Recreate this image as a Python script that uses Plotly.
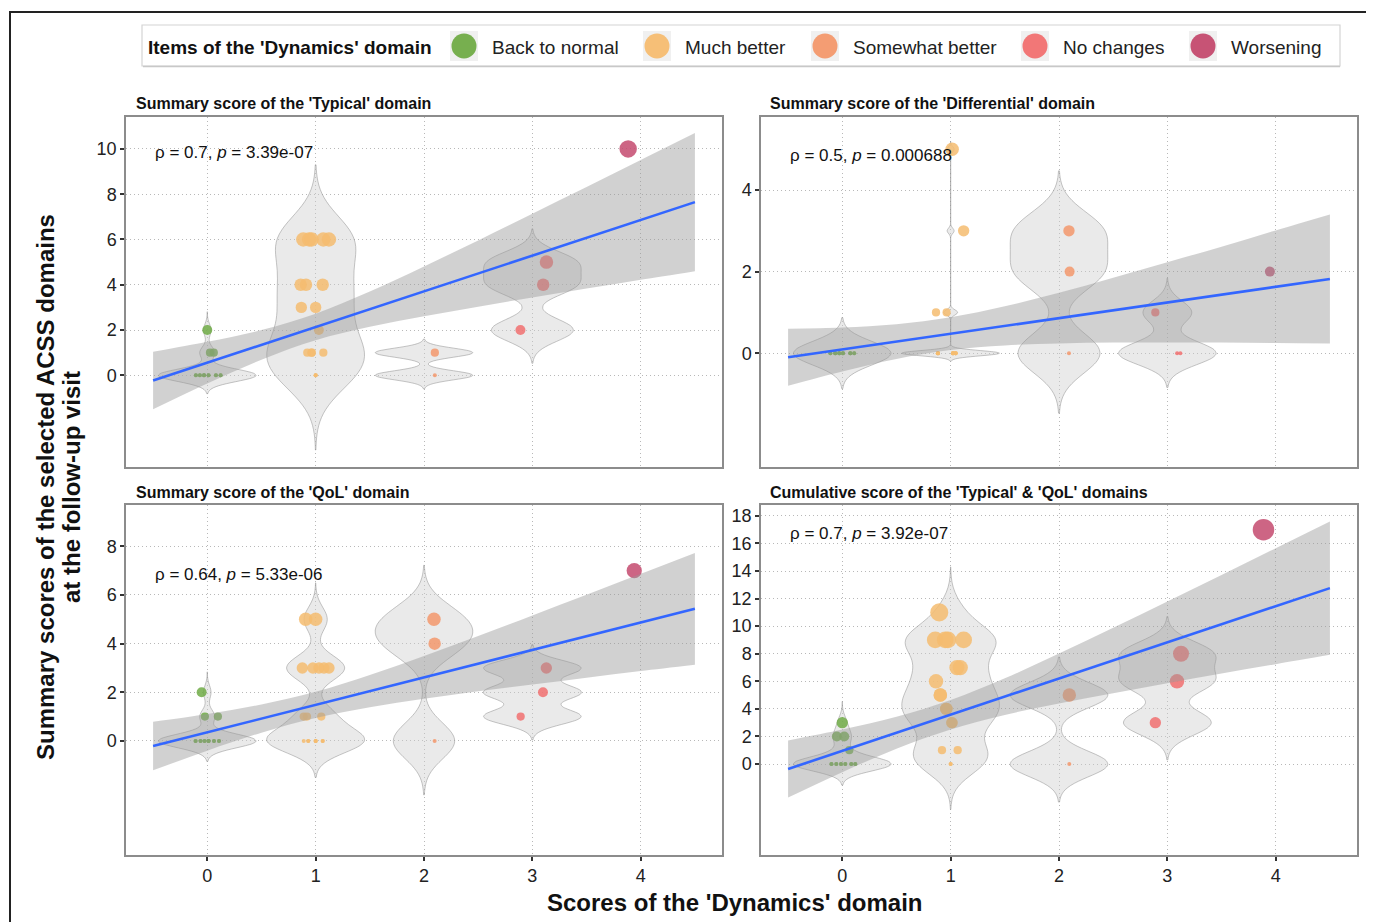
import plotly.graph_objects as go

# page is 1374x922; the html body adds an 8px margin, so the figure is drawn 8px smaller
PAGE_W, PAGE_H, OFF = 1374, 922, 8
W, H = PAGE_W - OFF, PAGE_H - OFF
FONT = "Liberation Sans, Arial, sans-serif"

# ---------------- categories ----------------
dyn_levels = [0, 1, 2, 3, 4]
dyn_labels = ["Back to normal", "Much better", "Somewhat better", "No changes", "Worsening"]
dyn_colors = ["#70AB46", "#F5BC70", "#F3986C", "#F17070", "#C44A6E"]
x_tick_vals = [0, 1, 2, 3, 4]

# ---------------- 'Typical' domain ----------------
typ_dyn = [0, 0, 0, 0, 0, 0, 0, 0, 0, 0, 0, 0, 0, 0, 0, 0,
           1, 1, 1, 1, 1, 1, 1, 1, 1, 1, 1, 1, 1, 1, 1, 1, 1, 1,
           2, 2, 3, 3, 3, 4]
typ_xj = [0.00, 0.025, 0.06, -0.105, -0.068, -0.03, 0.012, 0.08, 0.123, -0.105, -0.068, -0.03, 0.012, 0.08, 0.123, -0.03,
          0.886, 0.94, 0.963, 1.071, 1.123, 0.862, 0.911, 1.065, 0.868, 1.0, 1.03, 0.923, 0.963, 1.071, 0.963, 1.0, 1.0, 1.0,
          2.10, 2.10, 3.13, 3.10, 2.89, 3.884]
typ_y = [2, 1, 1, 0, 0, 0, 0, 0, 0, 0, 0, 0, 0, 0, 0, 0,
         6, 6, 6, 6, 6, 4, 4, 4, 3, 3, 2, 1, 1, 1, 1, 0, 0, 0,
         1, 0, 5, 4, 2, 10]
typ_bw = [0.27, 1.1, 0.2, 0.49]

# ---------------- 'Differential' domain ----------------
dif_dyn = [0, 0, 0, 0, 0, 0, 0, 0, 0, 0, 0, 0, 0, 0, 0, 0,
           1, 1, 1, 1, 1, 1, 1, 1, 1, 1, 1, 1, 1, 1, 1, 1, 1, 1,
           2, 2, 2, 3, 3, 3, 4]
dif_xj = [-0.11, -0.065, -0.028, 0.006, 0.074, 0.11, -0.11, -0.065, -0.028, 0.006, 0.074, 0.11, -0.065, -0.028, 0.006, 0.074,
          1.014, 1.12, 0.865, 0.963, 0.883, 1.022, 1.046, 0.883, 1.022, 1.046, 0.883, 1.022, 1.046, 0.883, 1.022, 1.046, 0.883, 1.022,
          2.092, 2.098, 2.092, 2.889, 3.09, 3.12, 3.946]
dif_y = [0, 0, 0, 0, 0, 0, 0, 0, 0, 0, 0, 0, 0, 0, 0, 0,
         5, 3, 1, 1, 0, 0, 0, 0, 0, 0, 0, 0, 0, 0, 0, 0, 0, 0,
         3, 2, 0, 1, 0, 0, 2]
dif_bw = [0.29, 0.065, 0.49, 0.28]

# ---------------- 'QoL' domain ----------------
qol_dyn = [0, 0, 0, 0, 0, 0, 0, 0, 0, 0, 0, 0, 0, 0, 0, 0,
           1, 1, 1, 1, 1, 1, 1, 1, 1, 1, 1, 1, 1, 1, 1, 1, 1, 1,
           2, 2, 2, 3, 3, 3, 4]
qol_xj = [-0.052, -0.022, 0.098, -0.108, -0.062, -0.025, 0.012, 0.062, 0.108, -0.108, -0.062, -0.025, 0.012, 0.062, 0.108, 0.012,
          0.908, 1.0, 0.877, 0.975, 1.031, 1.077, 1.123, 0.89, 0.92, 1.052, 0.89, 0.932, 1.0, 1.065, 1.0, 0.932, 1.0, 1.065,
          2.092, 2.098, 2.098, 3.129, 3.098, 2.892, 3.94]
qol_y = [2, 1, 1, 0, 0, 0, 0, 0, 0, 0, 0, 0, 0, 0, 0, 0,
         5, 5, 3, 3, 3, 3, 3, 1, 1, 1, 0, 0, 0, 0, 0, 0, 0, 0,
         5, 4, 0, 3, 2, 1, 7]
qol_bw = [0.28, 0.5, 0.74, 0.32]

# ---------------- cumulative 'Typical' & 'QoL' ----------------
cum_dyn = [0, 0, 0, 0, 0, 0, 0, 0, 0, 0, 0, 0, 0, 0, 0, 0,
           1, 1, 1, 1, 1, 1, 1, 1, 1, 1, 1, 1, 1, 1, 1, 1, 1, 1,
           2, 2, 3, 3, 3, 4]
cum_xj = [0.0, -0.05, 0.018, 0.065, -0.10, -0.055, -0.012, 0.028, 0.083, 0.12, -0.10, -0.055, -0.012, 0.028, 0.083, 0.12,
          0.895, 0.858, 0.95, 0.975, 1.12, 1.058, 1.089, 0.865, 0.905, 0.96, 1.012, 0.92, 1.065, 1.0, 1.0, 0.905, 0.96, 1.012,
          2.095, 2.095, 3.126, 3.089, 2.889, 3.887]
cum_y = [3, 2, 2, 1, 0, 0, 0, 0, 0, 0, 0, 0, 0, 0, 0, 0,
         11, 9, 9, 9, 9, 7, 7, 6, 5, 4, 3, 1, 1, 0, 0, 5, 4, 3,
         5, 0, 8, 6, 3, 17]
cum_bw = [0.51, 1.1, 0.92, 0.9]

# ---------------- linear fits with 95% CI ----------------
band_x = [-0.5, 0, 0.5, 1, 1.5, 2, 2.5, 3, 3.5, 4, 4.5]
fit_x = [-0.5, 4.5]
typ_lo = [-1.50, -0.36, 0.69, 1.55, 2.14, 2.61, 3.03, 3.44, 3.83, 4.22, 4.60]
typ_hi = [1.04, 1.48, 2.00, 2.72, 3.70, 4.81, 5.96, 7.14, 8.32, 9.51, 10.70]
typ_fit = [-0.23, 7.65]
dif_lo = [-0.80, -0.45, -0.14, 0.08, 0.19, 0.24, 0.26, 0.26, 0.26, 0.25, 0.24]
dif_hi = [0.60, 0.63, 0.71, 0.88, 1.15, 1.48, 1.85, 2.23, 2.61, 3.01, 3.40]
dif_fit = [-0.10, 1.82]
qol_lo = [-1.21, -0.40, 0.34, 0.94, 1.38, 1.73, 2.04, 2.32, 2.60, 2.87, 3.13]
qol_hi = [0.79, 1.11, 1.50, 2.02, 2.71, 3.49, 4.31, 5.16, 6.01, 6.87, 7.73]
qol_fit = [-0.21, 5.43]
cum_lo = [-2.43, -0.59, 1.11, 2.51, 3.56, 4.39, 5.14, 5.86, 6.56, 7.24, 7.92]
cum_hi = [1.71, 2.50, 3.42, 4.64, 6.22, 8.01, 9.88, 11.79, 13.72, 15.66, 17.60]
cum_fit = [-0.36, 12.76]

# ---------------- tick values / labels ----------------
typ_yticks = [0, 2, 4, 6, 8, 10]
dif_yticks = [0, 2, 4]
qol_yticks = [0, 2, 4, 6, 8]
cum_yticks = [0, 2, 4, 6, 8, 10, 12, 14, 16, 18]

panel_titles = ["Summary score of the 'Typical' domain",
                "Summary score of the 'Differential' domain",
                "Summary score of the 'QoL' domain",
                "Cumulative score of the 'Typical' & 'QoL' domains"]
stat_texts = ["ρ = 0.7, <i>p</i> = 3.39e-07",
              "ρ = 0.5, <i>p</i> = 0.000688",
              "ρ = 0.64, <i>p</i> = 5.33e-06",
              "ρ = 0.7, <i>p</i> = 3.92e-07"]
legend_title = "Items of the 'Dynamics' domain"
x_title = "Scores of the 'Dynamics' domain"
y_title_lines = ["Summary scores of the selected ACSS domains", "at the follow-up visit"]


# ---------------- layout geometry (page pixels -> paper fractions) ----------------
def fx(px):
    return (px - OFF) / W


def fy(py):
    return 1 - (py - OFF) / H


panels = [
    dict(dyn=typ_dyn, xj=typ_xj, y=typ_y, bw=typ_bw, lo=typ_lo, hi=typ_hi, fit=typ_fit,
         yr=[-4.05, 11.41], yt=typ_yticks, box=(126, 117, 722, 467), tpos=(134, 104), spos=(153, 152), bottom=False),
    dict(dyn=dif_dyn, xj=dif_xj, y=dif_y, bw=dif_bw, lo=dif_lo, hi=dif_hi, fit=dif_fit,
         yr=[-2.79, 5.79], yt=dif_yticks, box=(761, 117, 1357, 467), tpos=(768, 104), spos=(788, 155), bottom=False),
    dict(dyn=qol_dyn, xj=qol_xj, y=qol_y, bw=qol_bw, lo=qol_lo, hi=qol_hi, fit=qol_fit,
         yr=[-4.69, 9.70], yt=qol_yticks, box=(126, 505, 722, 855), tpos=(134, 492), spos=(153, 574), bottom=True),
    dict(dyn=cum_dyn, xj=cum_xj, y=cum_y, bw=cum_bw, lo=cum_lo, hi=cum_hi, fit=cum_fit,
         yr=[-6.60, 18.79], yt=cum_yticks, box=(761, 505, 1357, 855), tpos=(768, 492), spos=(788, 533), bottom=True),
]

size_max = max(max(typ_y), max(dif_y), max(qol_y), max(cum_y))


def size_px(v):
    return 4 + 17.5 * (v / size_max) ** 0.5


GRID = dict(showgrid=True, gridcolor="#B8B8B8", griddash="1px,3px", gridwidth=1)

fig = go.Figure()
layout_axes = {}
annotations = []

for i, p in enumerate(panels):
    sfx = "" if i == 0 else str(i + 1)
    xa, ya = "x" + sfx, "y" + sfx
    # violins (groups with >= 2 observations)
    for g in dyn_levels:
        vals = [yy for d, yy in zip(p["dyn"], p["y"]) if d == g]
        if len(vals) < 2:
            continue
        bw = p["bw"][g]
        fig.add_trace(go.Violin(
            x0=g, y=vals, width=0.9, bandwidth=bw, spanmode="manual",
            span=[min(vals) - 3 * bw, max(vals) + 3 * bw], scalemode="width",
            points=False, side="both", fillcolor="rgba(205,205,205,0.42)",
            line=dict(color="rgba(150,150,150,0.55)", width=1),
            box_visible=False, meanline_visible=False, hoverinfo="skip",
            showlegend=False, xaxis=xa, yaxis=ya))
    # points (size mapped to the score)
    for g in dyn_levels:
        xs = [x for d, x in zip(p["dyn"], p["xj"]) if d == g]
        ys = [yy for d, yy in zip(p["dyn"], p["y"]) if d == g]
        fig.add_trace(go.Scatter(
            x=xs, y=ys, mode="markers", name=dyn_labels[g],
            marker=dict(color=dyn_colors[g], size=[size_px(v) for v in ys], opacity=0.85,
                        line=dict(width=0)),
            showlegend=False, xaxis=xa, yaxis=ya))
    # confidence band
    fig.add_trace(go.Scatter(x=band_x, y=p["lo"], mode="lines",
                             line=dict(width=0, shape="spline"), hoverinfo="skip",
                             showlegend=False, xaxis=xa, yaxis=ya))
    fig.add_trace(go.Scatter(x=band_x, y=p["hi"], mode="lines", fill="tonexty",
                             fillcolor="rgba(153,153,153,0.45)",
                             line=dict(width=0, shape="spline"), hoverinfo="skip",
                             showlegend=False, xaxis=xa, yaxis=ya))
    # fit line
    fig.add_trace(go.Scatter(x=fit_x, y=p["fit"], mode="lines",
                             line=dict(color="#3366FF", width=2.6),
                             showlegend=False, xaxis=xa, yaxis=ya))

    x0, y0, x1, y1 = p["box"]
    layout_axes["xaxis" + sfx] = dict(
        domain=[fx(x0), fx(x1)], range=[-0.75, 4.75], type="linear", anchor=ya,
        tickvals=x_tick_vals, ticktext=[str(v) for v in x_tick_vals],
        showticklabels=p["bottom"], ticks="outside" if p["bottom"] else "",
        ticklen=4, tickwidth=1.5, tickcolor="#333333",
        tickfont=dict(size=18, color="#222222", family=FONT),
        zeroline=False, showline=True, mirror=True, linecolor="#8C8C8C", linewidth=1.5,
        fixedrange=True, **GRID)
    layout_axes["yaxis" + sfx] = dict(
        domain=[fy(y1), fy(y0)], range=p["yr"], anchor=xa,
        tickvals=p["yt"], ticktext=[str(v) for v in p["yt"]],
        ticks="outside", ticklen=4, tickwidth=1.5, tickcolor="#333333",
        tickfont=dict(size=18, color="#222222", family=FONT),
        zeroline=False, showline=True, mirror=True, linecolor="#8C8C8C", linewidth=1.5,
        fixedrange=True, **GRID)

    tx, ty = p["tpos"]
    annotations.append(dict(text="<b>" + panel_titles[i] + "</b>", x=fx(tx), y=fy(ty),
                            xref="paper", yref="paper", xanchor="left", yanchor="middle",
                            showarrow=False, font=dict(size=16, color="#111111", family=FONT)))
    sx, sy = p["spos"]
    annotations.append(dict(text=stat_texts[i], x=fx(sx), y=fy(sy),
                            xref="paper", yref="paper", xanchor="left", yanchor="middle",
                            showarrow=False, font=dict(size=17, color="#111111", family=FONT)))

# axis titles
annotations.append(dict(text="<b>" + x_title + "</b>", x=fx(735), y=fy(902), xref="paper", yref="paper",
                        xanchor="center", yanchor="middle", showarrow=False,
                        font=dict(size=24, color="#111111", family=FONT)))
for txt, cx in zip(y_title_lines, [45, 71]):
    annotations.append(dict(text="<b>" + txt + "</b>", x=fx(cx), y=fy(487), xref="paper", yref="paper",
                            xanchor="center", yanchor="middle", textangle=-90, showarrow=False,
                            font=dict(size=24, color="#111111", family=FONT)))

# ---------------- legend (drawn) and outer frame ----------------
shapes = []
shapes.append(dict(type="rect", xref="paper", yref="paper", x0=fx(10), y0=fy(960), x1=fx(1420), y1=fy(12),
                   line=dict(color="#222222", width=2), fillcolor="rgba(0,0,0,0)", layer="above"))
shapes.append(dict(type="rect", xref="paper", yref="paper", x0=fx(142), y0=fy(66), x1=fx(1340), y1=fy(25),
                   line=dict(color="#D4D4D4", width=1.2), fillcolor="white", layer="below"))
shapes.append(dict(type="line", xref="paper", yref="paper", x0=fx(143), y0=fy(66.5), x1=fx(1340), y1=fy(66.5),
                   line=dict(color="#C8C8C8", width=1.5)))
annotations.append(dict(text="<b>" + legend_title + "</b>", x=fx(146), y=fy(47), xref="paper", yref="paper",
                        xanchor="left", yanchor="middle", showarrow=False,
                        font=dict(size=19, color="#111111", family=FONT)))
key_cx = [464, 657, 825, 1035, 1203]
for g, cx in zip(dyn_levels, key_cx):
    cy = 46
    shapes.append(dict(type="rect", xref="paper", yref="paper", x0=fx(cx - 14), x1=fx(cx + 14),
                       y0=fy(cy + 15), y1=fy(cy - 15), line=dict(width=0), fillcolor="#F0F0F0"))
    shapes.append(dict(type="circle", xref="paper", yref="paper", x0=fx(cx - 12.5), x1=fx(cx + 12.5),
                       y0=fy(cy + 12.5), y1=fy(cy - 12.5), line=dict(width=0),
                       fillcolor=dyn_colors[g], opacity=0.95))
    annotations.append(dict(text=dyn_labels[g], x=fx(cx + 26), y=fy(47), xref="paper", yref="paper",
                            xanchor="left", yanchor="middle", showarrow=False,
                            font=dict(size=19, color="#222222", family=FONT)))

fig.update_layout(
    width=W, height=H, autosize=False,
    margin=dict(l=0, r=0, t=0, b=0),
    paper_bgcolor="white", plot_bgcolor="white",
    font=dict(family=FONT),
    showlegend=False, violinmode="overlay",
    annotations=annotations, shapes=shapes,
    **layout_axes)

fig.write_html("out.html")
